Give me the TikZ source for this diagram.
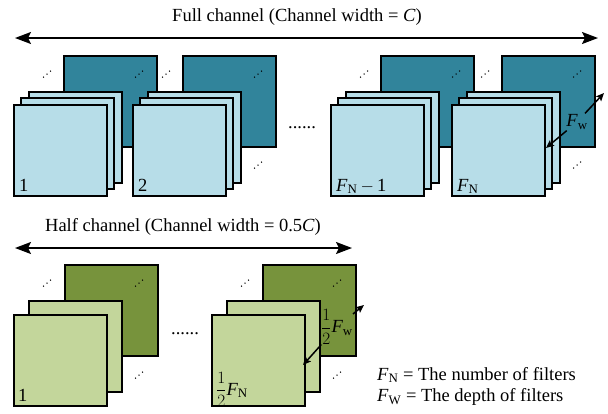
\documentclass[tikz,border=0pt]{standalone}
\usepackage{fontspec}
\setmainfont{Liberation Serif}
\usetikzlibrary{arrows.meta,calc}

\definecolor{tealdark}{HTML}{31849B}
\definecolor{teallight}{HTML}{B7DDE8}
\definecolor{olivedark}{HTML}{77933C}
\definecolor{olivelight}{HTML}{C3D69B}

% italic F with an upright subscript, as in F_N and F_w
\newcommand{\Fsub}[1]{\textit{F}\textsubscript{#1}}
% a full-size one half
\newcommand{\half}{$\displaystyle\frac{1}{2}$}
% three small dots climbing diagonally, centred on a point
\newcommand{\stackdots}[1]{%
  \foreach \k in {-1,0,1}{\fill ($#1+(3.5*\k,-3*\k)$) circle (0.75pt);}}

\begin{document}
\begin{tikzpicture}[x=1pt,y=-1pt,
  font=\fontsize{18.5}{21}\selectfont,
  sq/.style={draw=black,line width=1.6pt,inner sep=0pt,outer sep=0pt,
    anchor=north west,minimum width=93pt,minimum height=91pt},
  fdark/.style={sq,fill=tealdark},
  flight/.style={sq,fill=teallight},
  hdark/.style={sq,fill=olivedark},
  hlight/.style={sq,fill=olivelight},
  span/.style={line width=1.8pt,{Stealth[length=16pt,width=12pt,inset=3pt]}-{Stealth[length=16pt,width=12pt,inset=3pt]}},
  depth/.style={line width=1.5pt,-{Stealth[length=8pt,width=7pt,inset=1.5pt]}},
  lbl/.style={anchor=base west,inner sep=0pt},
]
\useasboundingbox (0,0) rectangle (608,413);

% ---------- full channel ----------
\node[inner sep=0pt] (fulltxt) at (297,17) {Full channel (Channel width = \textit{C})};
\coordinate (fl) at (15,38);
\coordinate (fr) at (598,38);
\draw[span] (fl) -- (fr);

\foreach \g/\bx/\txt in {1/14/{1},2/133/{2},3/331/{\Fsub{N}\,$-$\,1},4/452/{\Fsub{N}}}{
  \node[fdark]  (fd\g) at (\bx+50,56) {};
  \stackdots{(\bx+33,74)}
  \stackdots{(\bx+125,74)}
  \stackdots{(\bx+125,165)}
  \node[flight] (fa\g) at (\bx+15,92) {};
  \node[flight] (fb\g) at (\bx+7,98) {};
  \node[flight] (fc\g) at (\bx,105) {};
  \node[lbl] (ft\g) at ($(fc\g.south west)+(5,-5)$) {\txt};
}
\node[inner sep=0pt] (fgap) at (302,128) {......};

% filter depth F_w
\node[inner sep=1pt] (fw) at (577,122) {\Fsub{w}};
\coordinate (fwa) at (604,93);
\coordinate (fwb) at (546,148);
\draw[depth] (fw) -- (fwa);
\draw[depth] (fw) -- (fwb);

% ---------- half channel ----------
\node[inner sep=0pt] (halftxt) at (183,227) {Half channel (Channel width = 0.5\textit{C})};
\coordinate (hl) at (15,248);
\coordinate (hr) at (352,248);
\draw[span] (hl) -- (hr);

\foreach \g/\bx/\txt/\dy in {1/14/{1}/-5,2/212/{\half\Fsub{N}}/-11}{
  \node[hdark]  (hd\g) at (\bx+51,265) {};
  \stackdots{(\bx+33,283)}
  \stackdots{(\bx+125,283)}
  \stackdots{(\bx+125,375)}
  \node[hlight] (ha\g) at (\bx+15,301) {};
  \node[hlight] (hc\g) at (\bx,315) {};
  \node[lbl] (ht\g) at ($(hc\g.south west)+(4,\dy)$) {\txt};
}
\node[inner sep=0pt] (hgap) at (185,334) {......};

% filter depth 1/2 F_w
\node[inner sep=0pt] (hw) at (337,327) {\half\Fsub{w}};
\coordinate (hwa) at (364,305);
\coordinate (hwb) at (303,365);
\draw[depth] (hw) -- (hwa);
\draw[depth] (hw) -- (hwb);

% ---------- legend ----------
\node[anchor=west,inner sep=0pt] (legn) at (377,375) {\Fsub{N} = The number of filters};
\node[anchor=west,inner sep=0pt] (legw) at (377,397) {\Fsub{W} = The depth of filters};
\end{tikzpicture}
\end{document}
